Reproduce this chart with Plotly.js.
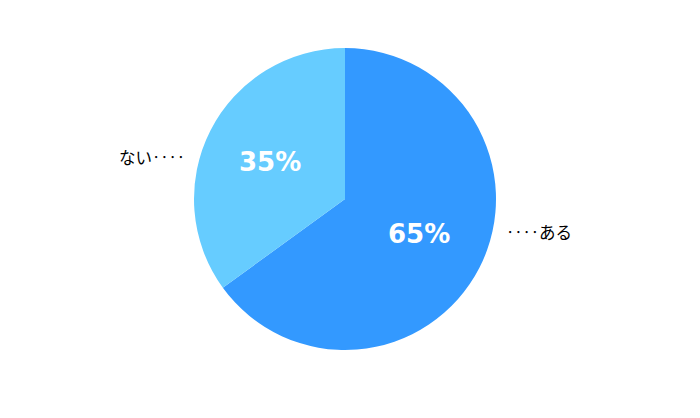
<!DOCTYPE html>
<html>
<head>
<meta charset="utf-8">
<script src="https://cdn.plot.ly/plotly-3.0.1.min.js"></script>
<style>
  html, body { margin: 0; padding: 0; background: #fff; }
  #chart { width: 700px; height: 418px; }
</style>
</head>
<body>
<div id="chart"></div>
<script>
// answers and their share
const labels = ['ある', 'ない'];
const values = [65, 35];
const colors = ['#3399FF', '#66CCFF'];

const total = values.reduce((a, b) => a + b, 0);
const pct = values.map((v) => Math.round((v / total) * 100) + '%');

const trace = {
  type: 'pie',
  labels: labels,
  values: values,
  sort: false,
  direction: 'clockwise',
  rotation: 0,
  marker: { colors: colors, line: { width: 0 } },
  textinfo: 'none',
  hoverinfo: 'label+percent',
};

// plot area is 690 x 302 starting at (0, 48)
const px = (x) => x / 690;
const py = (y) => (350 - y) / 302;

const pctFont = { family: 'DejaVu Sans', size: 26, color: '#fff', weight: 'bold' };

const layout = {
  width: 700,
  height: 418,
  margin: { l: 0, r: 10, t: 48, b: 68 },
  showlegend: false,
  paper_bgcolor: '#fff',
  font: { family: 'Noto Sans CJK JP', size: 16.5, color: '#000' },
  annotations: [
    { xref: 'paper', yref: 'paper', x: px(419), y: py(234), text: pct[0],
      font: pctFont, showarrow: false, xanchor: 'center', yanchor: 'middle' },
    { xref: 'paper', yref: 'paper', x: px(270), y: py(162), text: pct[1],
      font: pctFont, showarrow: false, xanchor: 'center', yanchor: 'middle' },
    {
      xref: 'paper', yref: 'paper',
      x: px(187), y: py(157),
      xanchor: 'right', yanchor: 'middle',
      text: labels[1] + '‥‥',
      showarrow: false,
    },
    {
      xref: 'paper', yref: 'paper',
      x: px(504), y: py(232),
      xanchor: 'left', yanchor: 'middle',
      text: '‥‥' + labels[0],
      showarrow: false,
    },
  ],
};

Plotly.newPlot('chart', [trace], layout, { displayModeBar: false, staticPlot: true });
</script>
</body>
</html>
